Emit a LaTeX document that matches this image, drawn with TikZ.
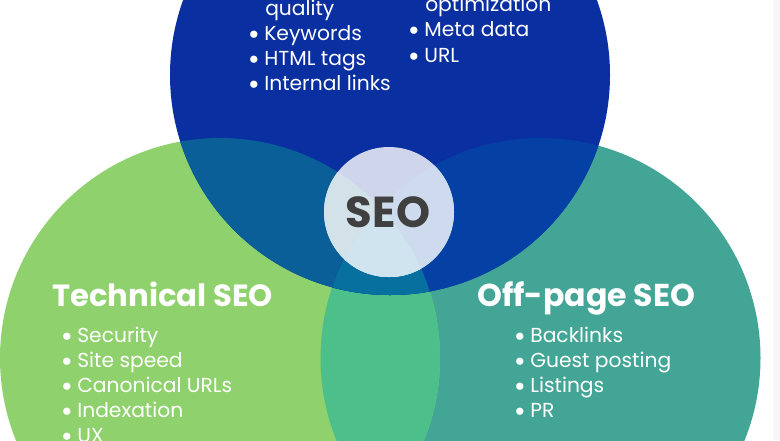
\documentclass[tikz,border=0pt]{standalone}
\usepackage{fontspec}
\setmainfont{Poppins}
\definecolor{cblue}{HTML}{0A2FA0}
\definecolor{cgreen}{HTML}{8FD16C}
\definecolor{cteal}{HTML}{43A595}
\definecolor{cgreenteal}{HTML}{4CBF8B}
\definecolor{cbluegreen}{HTML}{0A5F99}
\definecolor{cblueteal}{HTML}{0541A5}
\definecolor{cthree}{HTML}{08709F}
\definecolor{chubtop}{HTML}{CFD6EC}
\definecolor{chubleft}{HTML}{D3E1E9}
\definecolor{chubright}{HTML}{CEDBEE}
\definecolor{chubbottom}{HTML}{CFE4EE}
\definecolor{cinkhub}{HTML}{404040}
\newcommand{\topcirc}{(390,75) circle [radius=220]}
\newcommand{\leftcirc}{(220,358) circle [radius=220]}
\newcommand{\rightcirc}{(540.5,358) circle [radius=220]}
\newcommand{\hubcirc}{(389,212) circle [radius=65]}
\newcommand{\itemdot}{\makebox[11.3pt][l]{\hspace{-1pt}\smash{\raisebox{-3pt}{\fontsize{22pt}{22pt}\selectfont•}}}}
\tikzset{
  itemtext/.style={anchor=base west,text=white,font=\fontsize{15.2pt}{18pt}\selectfont,inner sep=0pt},
  headtext/.style={anchor=base west,text=white,font=\fontsize{23pt}{27pt}\selectfont\bfseries,inner sep=0pt},
  hubtext/.style={anchor=base,text=cinkhub,font=\fontsize{32.5pt}{36pt}\selectfont\bfseries,inner sep=0pt}
}
\begin{document}
\begin{tikzpicture}[x=0.75pt,y=0.75pt,yscale=-1,xscale=1]
\useasboundingbox (0,0) rectangle (780,440);
\clip (0,0) rectangle (780,440);

%Circles
\fill [cteal] \rightcirc;
\fill [cgreen] \leftcirc;
\begin{scope}
\clip \leftcirc;
\fill [cgreenteal] \rightcirc;
\end{scope}
\fill [cblue] \topcirc;
\begin{scope}
\clip \topcirc;
\fill [cbluegreen] \leftcirc;
\fill [cblueteal] \rightcirc;
\clip \leftcirc;
\fill [cthree] \rightcirc;
\end{scope}

%Middle circle
\fill [chubtop] \hubcirc;
\begin{scope}
\clip \hubcirc;
\fill [chubleft] \leftcirc;
\fill [chubright] \rightcirc;
\clip \leftcirc;
\fill [chubbottom] \rightcirc;
\end{scope}

%Strip at the right edge
\fill [black!3] (773,0) rectangle (780,440);

% Text Node
\node [hubtext] (hub) at (388,227) {SEO};
% Text Node
\node [headtext] (headleft) at (52,306) {Technical SEO};
\node [headtext,font=\fontsize{23.7pt}{27pt}\selectfont\bfseries] (headright) at (477,306) {Off-page SEO};
% Text Node
\node [itemtext] (topa) at (265,15) {quality};
\node [itemtext] (topb) at (249,40) {\itemdot Keywords};
\node [itemtext] (topc) at (249,65) {\itemdot HTML tags};
\node [itemtext] (topd) at (249,90) {\itemdot Internal links};
\node [itemtext] (tope) at (425,11) {optimization};
\node [itemtext] (topf) at (409,36) {\itemdot Meta data};
\node [itemtext] (topg) at (409,62) {\itemdot URL};
% Text Node
\node [itemtext] (lefta) at (62,342) {\itemdot Security};
\node [itemtext] (leftb) at (62,367) {\itemdot Site speed};
\node [itemtext] (leftc) at (62,392) {\itemdot Canonical URLs};
\node [itemtext] (leftd) at (62,417) {\itemdot Indexation};
\node [itemtext] (lefte) at (62,442) {\itemdot UX};
% Text Node
\node [itemtext] (righta) at (515,342) {\itemdot Backlinks};
\node [itemtext] (rightb) at (515,367) {\itemdot Guest posting};
\node [itemtext] (rightc) at (515,392) {\itemdot Listings};
\node [itemtext] (rightd) at (515,417) {\itemdot PR};
\end{tikzpicture}
\end{document}
